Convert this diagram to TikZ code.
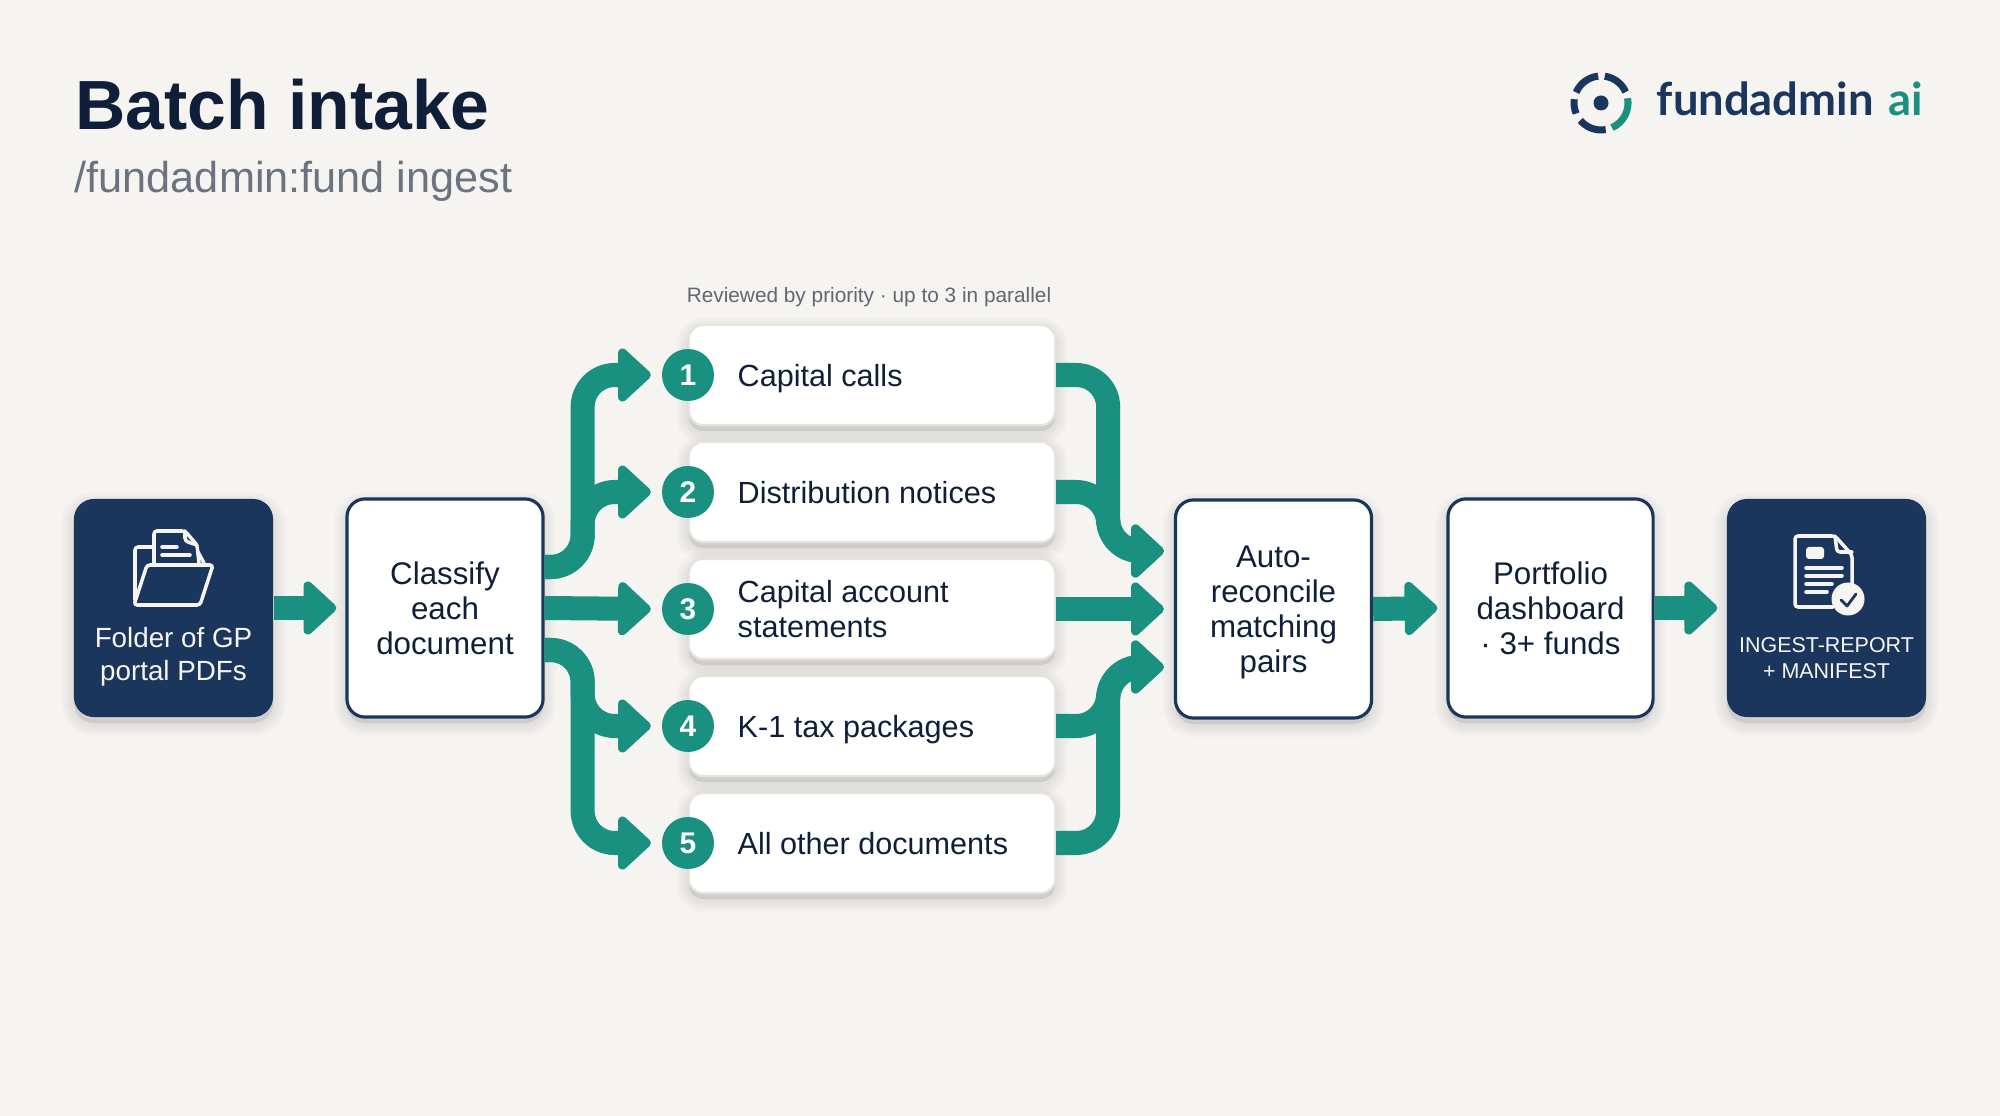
\documentclass[tikz,border=0pt]{standalone}
\usepackage{fontspec}
\setmainfont{Liberation Sans}
\newfontfamily\logofont{Lato}
\usepackage{xcolor}
\usetikzlibrary{positioning,calc,arrows.meta}

\definecolor{pagebg}{HTML}{F5F4F0}
\definecolor{navy}{HTML}{1B365D}
\definecolor{teal}{HTML}{1A9080}
\definecolor{inkdark}{HTML}{0F1F3A}
\definecolor{subgray}{HTML}{6B7280}
\definecolor{cream}{HTML}{F5F4F0}
\definecolor{cardedge}{HTML}{E6E3DC}

\tikzset{
  shadestep/.style={preaction={draw=black, fill=black, draw opacity=0.014, fill opacity=0.014, line width=#1, transform canvas={yshift=-0.06cm}}},
  softshadow/.style={shadestep=0.26cm, shadestep=0.21cm, shadestep=0.16cm, shadestep=0.11cm, shadestep=0.06cm},
  navybox/.style={draw=none, fill=navy, rounded corners=0.2cm, minimum width=1.99cm, minimum height=2.18cm, softshadow},
  whitebox/.style={draw=navy, line width=0.9pt, fill=white, rounded corners=0.18cm, align=center, text=inkdark, font=\fontsize{8.9}{10}\selectfont, softshadow},
  cardbox/.style={draw=cardedge, line width=0.6pt, fill=white, rounded corners=0.14cm, minimum width=3.66cm, minimum height=1cm, softshadow},
  cardtext/.style={anchor=west, align=left, text=inkdark, text depth=0pt, font=\fontsize{8.7}{10}\selectfont},
  badge/.style={circle, fill=teal, draw=none, minimum size=0.52cm, inner sep=0pt, text=white, font=\fontsize{8.5}{10}\bfseries\selectfont},
  flow/.style={draw=teal, line width=0.24cm, rounded corners=0.32cm, -{Triangle[length=0.35cm, width=0.62cm, round]}},
  icon/.style={draw=cream, line width=1pt, line join=round, line cap=round, rounded corners=0.03cm},
  ring/.style={line width=2pt}
}

\begin{document}
\begin{tikzpicture}[x=0.01cm, y=-0.01cm]
  % Page
  \fill[pagebg] (0, 0) rectangle (2000, 1116);
  \useasboundingbox (0, 0) rectangle (2000, 1116);

  % Title
  \node[anchor=base west, inner sep=0pt, text=inkdark, font=\fontsize{19.8}{24}\bfseries\selectfont] (title) at (75, 130) {Batch intake};
  \node[anchor=base west, inner sep=0pt, text=subgray, font=\fontsize{12.3}{15}\selectfont] (subtitle) at (74, 193) {/fundadmin:fund ingest};

  % Logo
  \draw[navy, ring] (1601, 103) ++(-157:27) arc[start angle=-157, end angle=-96, radius=27];
  \draw[navy, ring] (1601, 103) ++(-82:27) arc[start angle=-82, end angle=-24, radius=27];
  \draw[teal, ring] (1601, 103) ++(-10:27) arc[start angle=-10, end angle=66, radius=27];
  \draw[navy, ring] (1601, 103) ++(80:27) arc[start angle=80, end angle=140, radius=27];
  \draw[navy, ring] (1601, 103) ++(157:27) arc[start angle=157, end angle=188, radius=27];
  \fill[navy] (1601, 103) circle (7.5);
  \node[anchor=base west, inner sep=0pt, text=navy, font=\logofont\fontsize{12.9}{15}\bfseries\selectfont] (logoname) at (1656, 116) {fundadmin};
  \node[anchor=base west, inner sep=0pt, text=teal, font=\logofont\fontsize{12.9}{15}\bfseries\selectfont] (logoai) at (1888, 116) {ai};

  % Main boxes
  \node[navybox] (folder) at (173.5, 608) {};
  \node[whitebox, minimum width=1.96cm, minimum height=2.18cm] (classify) at (445, 608) {Classify\\each\\document};
  \node[whitebox, minimum width=1.96cm, minimum height=2.18cm, text depth=0pt] (reconcile) at (1273.5, 609) {Auto-\\reconcile\\matching\\pairs};
  \node[whitebox, minimum width=2.05cm, minimum height=2.18cm] (dashboard) at (1550.5, 608) {Portfolio\\dashboard\\· 3+ funds};
  \node[navybox] (report) at (1826.5, 608) {};

  % Texts in the navy boxes
  \node[align=center, text=cream, font=\fontsize{7.9}{9.4}\selectfont] (foldertext) at (173.5, 657) {Folder of GP\\portal PDFs};
  \node[align=center, text=cream, font=\fontsize{6.1}{7.6}\selectfont] (reporttext) at (1826.5, 658) {INGEST-REPORT\\+ MANIFEST};

  % Folder icon
  \draw[icon] (135, 600) -- (135, 547) -- (154, 547);
  \draw[icon] (154, 563) -- (154, 531) -- (185, 531) -- (197, 545) -- (199, 563);
  \draw[icon] (185, 531) -- (185, 541) -- (197, 545);
  \draw[icon] (198, 552) -- (204, 563);
  \draw[icon] (162, 547) -- (177, 547);
  \draw[icon] (162, 555) -- (190, 555);
  \draw[icon] (147, 565) -- (213, 565) -- (200, 605) -- (134, 605) -- cycle;

  % Report icon
  \draw[icon] (1833, 607) -- (1795, 607) -- (1795, 536) -- (1835, 536) -- (1852, 555) -- (1852, 587);
  \draw[icon] (1835, 536) -- (1837, 552) -- (1852, 552);
  \fill[cream, rounded corners=0.03cm] (1806, 547) rectangle (1824, 559);
  \draw[icon] (1806, 568) -- (1842, 568);
  \draw[icon] (1806, 576) -- (1842, 576);
  \draw[icon] (1806, 584) -- (1832, 584);
  \draw[icon] (1806, 592) -- (1827, 592);
  \fill[cream] (1848, 599) circle (16.5);
  \draw[navy, line width=0.8pt, line cap=round, line join=round] (1841, 600) -- (1847, 606) -- (1856, 594);

  % Caption over the cards
  \node[text=subgray!90!black, font=\fontsize{5.92}{8}\selectfont] (caption) at (869, 297) {Reviewed by priority · up to 3 in parallel};

  % Cards with badges
  \foreach \nr/\ypos/\txt in {1/375/Capital calls, 2/492/Distribution notices, 3/609/{Capital account\\statements}, 4/726/K-1 tax packages, 5/843/All other documents} {
    \node[cardbox] (card\nr) at (872, \ypos) {};
    \node[cardtext, inner sep=0pt] (cardlabel\nr) at (737, \ypos) {\txt};
    \coordinate (fantip\nr) at ($(card\nr.west)+(-37, 0)$);
  }

  % Arrows, straight
  \draw[flow, shorten >=0.09cm] (folder.east) -- (classify.west);
  \draw[flow] (classify.east) -- (fantip3);
  \draw[flow] (card3.east) -- ($(reconcile.west)+(-10, 0)$);
  \draw[flow, shorten >=0.09cm] (reconcile.east) -- (dashboard.west);
  \draw[flow, shorten >=0.09cm] (dashboard.east) -- (report.west);

  % Fan out
  \foreach \nr in {1, 2} {
    \draw[flow] ($(classify.east)+(0, -41)$) -- ++(38, 0) |- (fantip\nr);
  }
  \foreach \nr in {4, 5} {
    \draw[flow] ($(classify.east)+(0, 42)$) -- ++(38, 0) |- (fantip\nr);
  }

  % Fan in
  \foreach \nr in {1, 2} {
    \draw[flow] (card\nr.east) -- ++(52, 0) |- ($(reconcile.west)+(-10, -58)$);
  }
  \foreach \nr in {4, 5} {
    \draw[flow] (card\nr.east) -- ++(52, 0) |- ($(reconcile.west)+(-10, 58)$);
  }

  % Badges
  \foreach \nr/\ypos in {1/375, 2/492, 3/609, 4/726, 5/843} {
    \node[badge] (badge\nr) at (688, \ypos) {\nr};
  }
\end{tikzpicture}
\end{document}
